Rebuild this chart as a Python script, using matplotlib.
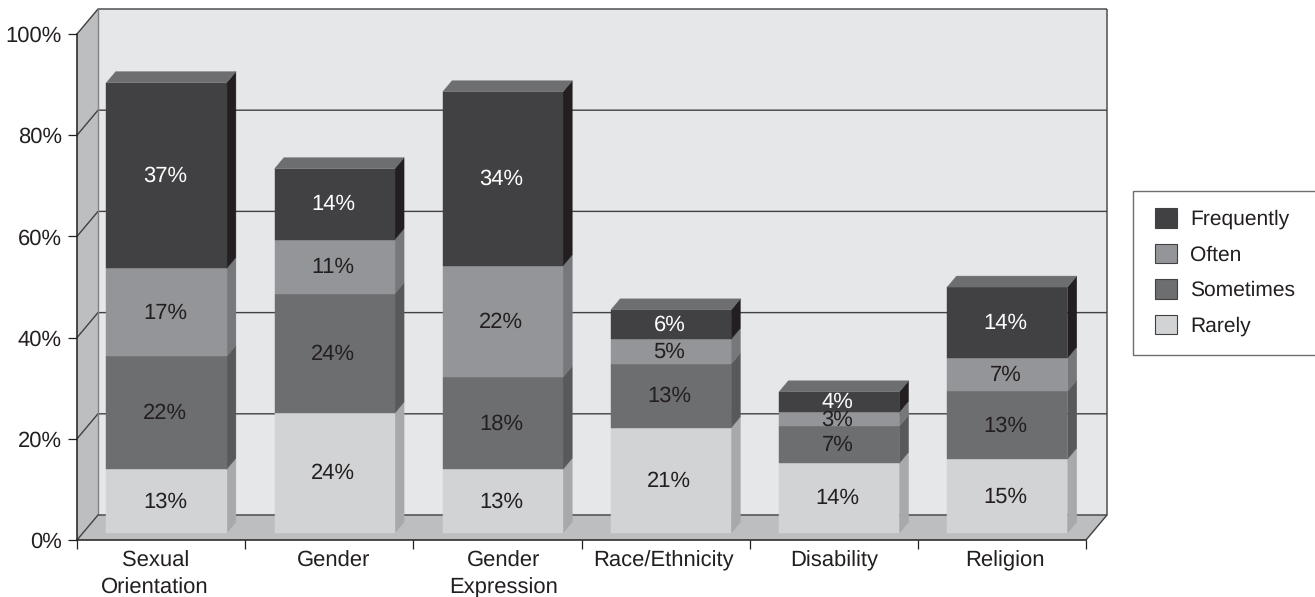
import matplotlib
matplotlib.use("Agg")
import matplotlib.pyplot as plt
from matplotlib.patches import Patch, Polygon, Rectangle

plt.rcParams['font.family'] = ['Liberation Sans', 'DejaVu Sans']
plt.rcParams['text.hinting'] = 'no_hinting'
plt.rcParams['text.hinting_factor'] = 1

categories = ["Sexual\nOrientation", "Gender", "Gender\nExpression", "Race/Ethnicity", "Disability", "Religion"]
rarely = [12.6, 23.7, 12.6, 20.8, 13.8, 14.6]
sometimes = [22.3, 23.6, 18.2, 12.6, 7.3, 13.4]
often = [17.4, 10.7, 22.0, 4.9, 2.8, 6.6]
frequently = [36.7, 14.0, 34.4, 5.8, 4.0, 14.0]
y_ticks = [0, 20, 40, 60, 80, 100]

series = [
    ("Rarely", rarely, "#d1d3d4", "#a7a9ac", "#231f20"),
    ("Sometimes", sometimes, "#6d6e70", "#58595b", "#231f20"),
    ("Often", often, "#939598", "#77787b", "#231f20"),
    ("Frequently", frequently, "#414042", "#231f20", "white"),
]
TOP_COLOR = "#6d6e70"
LINE = "#414042"
W, H = 1315, 597

fig = plt.figure(figsize=(W / 100, H / 100), dpi=100)
ax = fig.add_axes([77 / W, 1 - 540 / H, (1086 - 77) / W, (540 - 34) / H])
ax.set_xlim(0, 6)
ax.set_ylim(0, 100)
ax.patch.set_visible(False)

# depth of the fake 3d box, in data units
DX = 21 / (1009 / 6)
DY = 25 / 5.06


def pt(x, y, d=0.0):
    return (x + d * DX, y + d * DY)


def poly(points, color, z):
    ax.add_patch(Polygon(points, closed=True, fc=color, ec=color, lw=0.3, clip_on=False, zorder=z))


def line(points, color=LINE, lw=1.0, z=2):
    xs, ys = zip(*points)
    ax.plot(xs, ys, color=color, lw=lw, clip_on=False, zorder=z, solid_capstyle="butt")


# walls and floor
poly([pt(0, 0, 1), pt(6, 0, 1), pt(6, 100, 1), pt(0, 100, 1)], "#e6e7e8", 1)
poly([pt(0, 0), pt(0, 0, 1), pt(0, 100, 1), pt(0, 100)], "#bcbec0", 1)
poly([pt(0, 0), pt(6, 0), pt(6, 0, 1), pt(0, 0, 1)], "#bcbec0", 1)

for t in y_ticks:
    if t == 0:
        continue
    line([pt(0, t), pt(0, t, 1), pt(6, t, 1)])
line([pt(0, 0, 1), pt(0, 100, 1)], color="#808285")
line([pt(0, 0), pt(0, 0, 1), pt(6, 0, 1), pt(6, 100, 1)])
line([pt(6, 0), pt(6, 0, 1)])

# bars
BAR_W = 0.715
D0, D1 = 0.28, 0.72
for i in range(len(categories)):
    x0 = i + 0.5 - 0.36
    x1 = x0 + BAR_W
    base = 0.0
    for name, vals, face, side, txt in series:
        top = base + vals[i]
        z = 5 + i
        poly([pt(x1, base, D0), pt(x1, top, D0), pt(x1, top, D1), pt(x1, base, D1)], side, z)
        poly([pt(x0, base, D0), pt(x1, base, D0), pt(x1, top, D0), pt(x0, top, D0)], face, z)
        ax.annotate(f"{vals[i]:.0f}%", pt(i + 0.5, base + vals[i] / 2, D0), xytext=(-1.5, -0.4), textcoords="offset points",
                    color=txt, fontsize=15.6, ha="center", va="center", zorder=20)
        base = top
    poly([pt(x0, base, D0), pt(x1, base, D0), pt(x1, base, D1), pt(x0, base, D1)], TOP_COLOR, z)

# axes
for s in ["top", "right"]:
    ax.spines[s].set_visible(False)
for s in ["left", "bottom"]:
    ax.spines[s].set_color("#231f20")
    ax.spines[s].set_linewidth(1.1)
    ax.spines[s].set_zorder(3)
ax.set_yticks(y_ticks)
ax.set_yticklabels([f"{t}%" for t in y_ticks])
ax.set_xticks(range(7))
ax.set_xticklabels([])
# the labels are not quite centred in the original
ax.set_xticks([0.465, 1.525, 2.535, 3.49, 4.5, 5.515], minor=True)
ax.set_xticklabels(categories, minor=True, linespacing=1.42)
ax.tick_params(axis="both", which="major", length=6.5, width=0.9, color="#231f20", labelsize=15.9, labelcolor="#231f20", pad=4.5)
ax.tick_params(axis="x", which="minor", length=0, labelsize=15.7, labelcolor="#231f20", pad=7.5)

# legend, its box runs off the right edge
fig.add_artist(Rectangle((1133 / W, 1 - 355 / H), 200 / W, 164 / H, transform=fig.transFigure, fc="white", ec="#6d6e70", lw=1.0))
handles = [Patch(fc=c, ec="#414042", lw=0.8, label=n) for n, v, c, s, t in reversed(series)]
leg = fig.legend(
    handles=handles, loc="upper left", bbox_to_anchor=(1155 / W, 1 - 208 / H), bbox_transform=fig.transFigure,
    fontsize=15.4, frameon=False, borderaxespad=0, borderpad=0, handlelength=1.03, handleheight=1.03,
    handletextpad=0.6, labelspacing=0.66, labelcolor="#231f20",
)

fig.savefig("out.png", dpi=100)
